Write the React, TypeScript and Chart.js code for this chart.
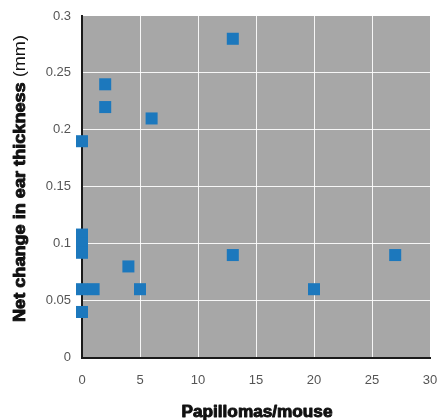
import React, { useEffect, useRef } from "react";
import { Chart, registerables } from "chart.js";

Chart.register(...registerables);

const papillomas = [13, 2, 2, 6, 0, 0, 0, 0, 4, 0, 1, 5, 0, 13, 20, 27];
const earThickness = [0.28, 0.24, 0.22, 0.21, 0.19, 0.108, 0.1, 0.092, 0.08, 0.06, 0.06, 0.06, 0.04, 0.09, 0.06, 0.09];
const xTickLabels = ["0", "5", "10", "15", "20", "25", "30"];
const yTickLabels = ["0", "0.05", "0.1", "0.15", "0.2", "0.25", "0.3"];
const xTitle = "Papillomas/mouse";
const yTitleBold = "Net change in ear thickness";
const yTitleUnit = " (mm)";

const TICK_FONT = "'Liberation Sans', Arial, sans-serif";
const TITLE_FONT = "'Liberation Sans', Arial, sans-serif";

const bgPlugin = {
  id: "plotBg",
  beforeDraw(chart: any) {
    const { ctx, chartArea } = chart;
    ctx.save();
    ctx.fillStyle = "#a7a7a7";
    ctx.fillRect(chartArea.left, chartArea.top, chartArea.right - chartArea.left, chartArea.bottom - chartArea.top);
    ctx.restore();
  },
};

const titlePlugin = {
  id: "customTitles",
  afterDraw(chart: any) {
    const { ctx, chartArea } = chart;
    ctx.save();
    ctx.fillStyle = "#111";
    ctx.strokeStyle = "#111";
    ctx.lineWidth = 0.9;
    ctx.lineJoin = "round";
    ctx.textBaseline = "alphabetic";
    // X title
    ctx.font = `bold 16px ${TITLE_FONT}`;
    const xw = ctx.measureText(xTitle).width;
    const targetX = 151;
    const xcx = (chartArea.left + chartArea.right) / 2 + 1;
    ctx.save();
    ctx.translate(xcx - targetX / 2, 417);
    ctx.scale(targetX / xw, 1.0);
    ctx.fillText(xTitle, 0, 0);
    ctx.strokeText(xTitle, 0, 0);
    ctx.restore();
    // Y title
    ctx.font = `bold 16px ${TITLE_FONT}`;
    const bw = ctx.measureText(yTitleBold).width;
    ctx.font = `16px ${TITLE_FONT}`;
    const uw = ctx.measureText(yTitleUnit).width;
    const targetY = 287;
    const s = targetY / (bw + uw);
    ctx.save();
    ctx.translate(25, 322);
    ctx.rotate(-Math.PI / 2);
    ctx.scale(s, 1);
    ctx.font = `bold 16px ${TITLE_FONT}`;
    ctx.fillText(yTitleBold, 0, 0);
    ctx.strokeText(yTitleBold, 0, 0);
    ctx.font = `16px ${TITLE_FONT}`;
    ctx.fillText(yTitleUnit, bw, 0);
    ctx.restore();
    ctx.restore();
  },
};

export default function App() {
  const ref = useRef<HTMLCanvasElement | null>(null);
  useEffect(() => {
    if (!ref.current) return;
    const data = papillomas.map((x, i) => ({ x, y: earThickness[i] }));
    const chart = new Chart(ref.current, {
      type: "scatter",
      data: {
        datasets: [
          {
            data,
            pointStyle: "rect",
            pointRadius: 8.5,
            pointHoverRadius: 8.5,
            backgroundColor: "#1c78bd",
            borderWidth: 0,
            clip: false,
          } as any,
        ],
      },
      options: {
        animation: false,
        responsive: false,
        maintainAspectRatio: false,
        events: [],
        layout: { autoPadding: false, padding: { top: 16, right: 7, left: 0, bottom: 0 } },
        plugins: { legend: { display: false }, tooltip: { enabled: false } },
        scales: {
          x: {
            type: "linear",
            min: 0,
            max: 30,
            afterFit(scale: any) {
              scale.height = 62.5;
              scale.paddingLeft = 0;
              scale.paddingRight = 0;
            },
            afterBuildTicks(scale: any) {
              scale.ticks = xTickLabels.map((l) => ({ value: Number(l) }));
            },
            ticks: {
              callback: (v: any) => xTickLabels.find((l) => Number(l) === Number(v)) ?? "",
              color: "#555",
              font: { family: TICK_FONT, size: 13 },
              padding: 15,
              maxRotation: 0,
              autoSkip: false,
            },
            grid: {
              color: (c: any) => (c.tick && (c.tick.value === 0 || c.tick.value === 30) ? "rgba(0,0,0,0)" : "rgba(255,255,255,0.9)"),
              lineWidth: 1,
              drawTicks: false,
            },
            border: { color: "#1a1a1a", width: 2 },
          },
          y: {
            type: "linear",
            min: 0,
            max: 0.3,
            afterFit(scale: any) {
              scale.width = 82;
              scale.paddingTop = 0;
              scale.paddingBottom = 0;
            },
            afterBuildTicks(scale: any) {
              scale.ticks = yTickLabels.map((l) => ({ value: Number(l) }));
            },
            ticks: {
              callback: (v: any) => yTickLabels.find((l) => Math.abs(Number(l) - Number(v)) < 1e-9) ?? "",
              color: "#555",
              font: { family: TICK_FONT, size: 13 },
              padding: 11,
              autoSkip: false,
            },
            grid: {
              color: (c: any) =>
                c.tick && (Math.abs(c.tick.value) < 1e-9 || Math.abs(c.tick.value - 0.3) < 1e-9) ? "rgba(0,0,0,0)" : "rgba(255,255,255,0.9)",
              lineWidth: 1,
              drawTicks: false,
            },
            border: { color: "#1a1a1a", width: 2 },
          },
        },
      },
      plugins: [bgPlugin, titlePlugin],
    });
    return () => chart.destroy();
  }, []);
  return (
    <div style={{ position: "fixed", left: 0, top: 0, width: 437, height: 420, background: "#fff" }}>
      <canvas ref={ref} width={437} height={420} style={{ width: 437, height: 420, display: "block" }} />
    </div>
  );
}
